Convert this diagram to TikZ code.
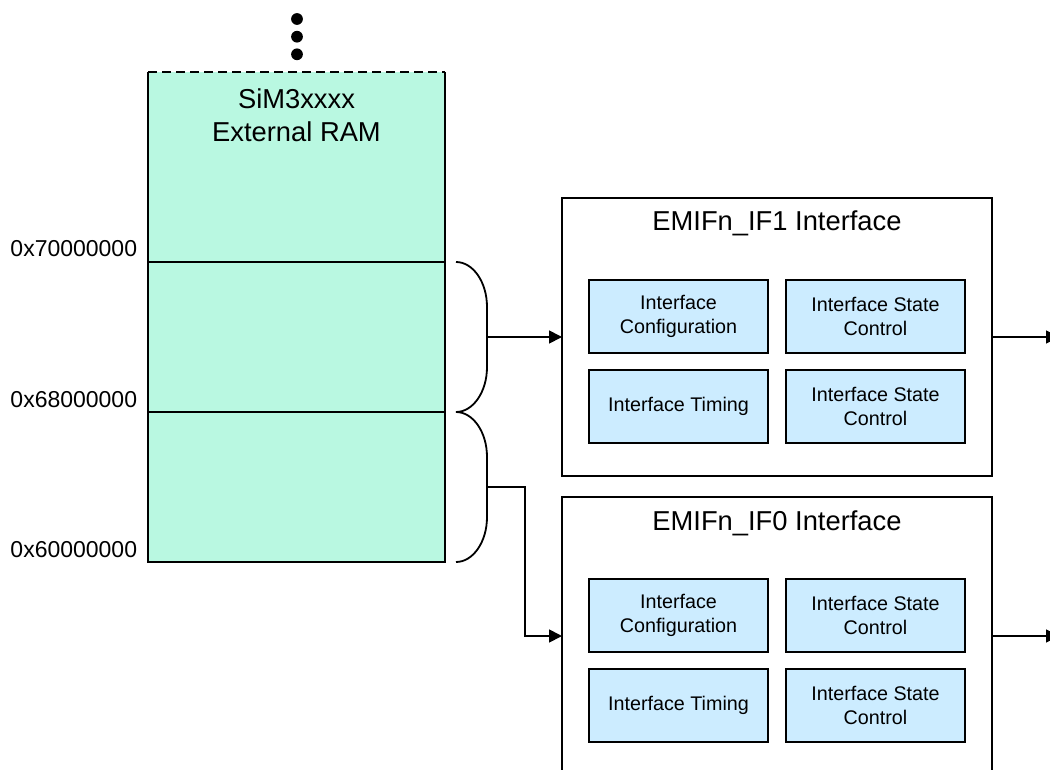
\documentclass[tikz,border=0pt]{standalone}
\usepackage{fontspec}
\setmainfont{Liberation Sans}
\usetikzlibrary{arrows.meta, positioning}
\definecolor{ramcol}{HTML}{B9F8E1}
\definecolor{partcol}{HTML}{CCECFF}
\definecolor{linecol}{HTML}{000000}

\begin{document}
\begin{tikzpicture}[x=0.75pt, y=-0.75pt, line width=1.35pt,
  cell/.style={rectangle, draw=linecol, fill=ramcol, outer sep=0pt, inner sep=0pt,
               minimum width=222.75pt, minimum height=112.5pt},
  addr/.style={font=\fontsize{17.25}{20}\selectfont, inner sep=0pt, anchor=base east},
  iface/.style={rectangle, draw=linecol, fill=white, outer sep=0pt,
                minimum width=322.5pt, minimum height=208.5pt},
  part/.style={rectangle, draw=linecol, fill=partcol, outer sep=0pt, inner sep=0pt,
               align=center, minimum width=134.25pt, minimum height=54.75pt,
               font=\fontsize{14.8}{17.5}\selectfont},
  title/.style={font=\fontsize{20.5}{24.75}\selectfont, inner sep=0pt, align=center},
  dot/.style={circle, fill=linecol, inner sep=0pt, minimum size=8.8pt},
  arrow/.style={-{Triangle[length=9.75pt, width=9.75pt]}, linecol},
  node distance=12.75pt and 13.5pt,
]
  \useasboundingbox (0,0) rectangle (1050,770);

  \node[cell, draw=none, minimum height=142.5pt] (ramtop) at (296.5,167) {};
  \node[cell, below=0pt of ramtop] (ram1) {};
  \node[cell, below=0pt of ram1] (ram0) {};
  \draw (ramtop.north west) -- (ramtop.south west)
        (ramtop.north east) -- (ramtop.south east);
  \draw[dashed, dash pattern=on 6.75pt off 3.75pt] (ramtop.north west) -- (ramtop.north east);
  \node[title, anchor=north] (ramname) at ([yshift=-12pt]ramtop.north) {SiM3xxxx\\External RAM};
  \foreach \y [count=\i] in {19,36.7,54.3}
    \node[dot] (dot\i) at (297,\y) {};

  \node[addr] (a7) at ([xshift=-7.5pt, yshift=3.75pt]ram1.north west) {0x70000000};
  \node[addr] (a68) at ([xshift=-7.5pt, yshift=3.75pt]ram0.north west) {0x68000000};
  \node[addr] (a6) at ([xshift=-7.5pt, yshift=3.75pt]ram0.south west) {0x60000000};

  \draw ([xshift=8.25pt]ram1.north east) .. controls +(17,0) and +(0,-25) .. ++(31,45)
        -- coordinate (b1) ++(0,60) .. controls +(0,25) and +(17,0) .. ++(-31,45);
  \draw ([xshift=8.25pt]ram0.north east) .. controls +(17,0) and +(0,-25) .. ++(31,45)
        -- coordinate (b0) ++(0,60) .. controls +(0,25) and +(17,0) .. ++(-31,45);

  \node[iface, right=87.75pt of ram1] (if1) {};
  \node[title, anchor=base] (t1) at ([yshift=-24.75pt]if1.north) {EMIFn\_IF1 Interface};
  \node[part, anchor=north west] (cfg1) at ([xshift=20.25pt, yshift=-61.5pt]if1.north west)
    {Interface\\Configuration};
  \node[part, right=of cfg1] (st1) {Interface State\\Control};
  \node[part, below=of cfg1] (tim1) {Interface Timing};
  \node[part, below=of st1] (ctl1) {Interface State\\Control};

  \node[iface, below=15.75pt of if1] (if0) {};
  \node[title, anchor=base] (t0) at ([yshift=-24.75pt]if0.north) {EMIFn\_IF0 Interface};
  \node[part, anchor=north west] (cfg0) at ([xshift=20.25pt, yshift=-61.5pt]if0.north west)
    {Interface\\Configuration};
  \node[part, right=of cfg0] (st0) {Interface State\\Control};
  \node[part, below=of cfg0] (tim0) {Interface Timing};
  \node[part, below=of st0] (ctl0) {Interface State\\Control};

  \coordinate (o1) at ([xshift=50.25pt]if1.east);
  \coordinate (o0) at ([xshift=50.25pt]if0.east);

  \draw[arrow] (b1) -- (if1);
  \draw[arrow] (b0) -- ++(38,0) |- (if0);
  \draw[arrow] (if1) -- (o1);
  \draw[arrow] (if0) -- (o0);
\end{tikzpicture}
\end{document}
